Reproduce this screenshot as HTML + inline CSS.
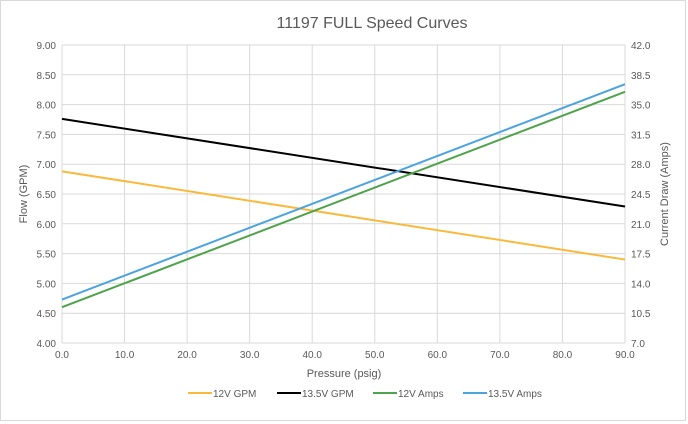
<!DOCTYPE html>
<html><head><style>
body{margin:0;background:#fff;}
svg{display:block;font-family:"Liberation Sans",sans-serif;}
</style></head><body>
<svg id="chart" width="688" height="424" xmlns="http://www.w3.org/2000/svg">
<rect x="0.5" y="0.5" width="685" height="420" fill="#fff" stroke="#d9d9d9"/>
<text x="372" y="28" text-anchor="middle" font-size="16" fill="#595959">11197 FULL Speed Curves</text>
<g id="grid"></g>
<g id="axes"></g>
<g id="series"></g>
<text x="344" y="377" text-anchor="middle" font-size="11" fill="#595959">Pressure (psig)</text>
<text transform="translate(27,194) rotate(-90)" text-anchor="middle" font-size="11" fill="#595959">Flow (GPM)</text>
<text transform="translate(668,194) rotate(-90)" text-anchor="middle" font-size="11" fill="#595959">Current Draw (Amps)</text>
<g id="legend"></g>
</svg>
<script>
const xTicks=[0,10,20,30,40,50,60,70,80,90];
const yTicks=[4,4.5,5,5.5,6,6.5,7,7.5,8,8.5,9];
const y2Ticks=[7,10.5,14,17.5,21,24.5,28,31.5,35,38.5,42];
const pressure=[0,90];
const gpm12=[6.88,5.40];
const gpm135=[7.76,6.29];
const amps12=[11.2,36.5];
const amps135=[12.1,37.4];
const seriesNames=["12V GPM","13.5V GPM","12V Amps","13.5V Amps"];
const colors=["#f9b93b","#000000","#4ea34b","#4ca3e0"];
const L=62,R=625,T=45,B=343;
const sx=v=>L+(v-0)/(90-0)*(R-L);
const sy=v=>B-(v-4)/(9-4)*(B-T);
const sy2=v=>B-(v-7)/(42-7)*(B-T);
const NS="http://www.w3.org/2000/svg";
function mk(tag,attrs,parent){const e=document.createElementNS(NS,tag);for(const k in attrs)e.setAttribute(k,attrs[k]);parent.appendChild(e);return e;}
const grid=document.getElementById('grid'),axes=document.getElementById('axes'),ser=document.getElementById('series'),leg=document.getElementById('legend');
yTicks.forEach((t,i)=>{
 const y=sy(t);
 const g=mk('line',{x1:L,x2:R,y1:y,y2:y,stroke:'#d9d9d9','stroke-width':1},grid);
 
 
 const tx=mk('text',{x:L-6,y:y+4,'text-anchor':'end','font-size':10,fill:'#595959'},axes);
 tx.textContent=t.toFixed(2);
 
 
});
y2Ticks.forEach(t=>{
 const y=sy2(t);
 const tx=mk('text',{x:R+6,y:y+4,'font-size':10,fill:'#595959'},axes);
 tx.textContent=t.toFixed(1);
 
 
});
xTicks.forEach(t=>{
 const x=sx(t);
 const g=mk('line',{x1:x,x2:x,y1:T,y2:B,stroke:'#d9d9d9','stroke-width':1},grid);
 
 
 const tx=mk('text',{x:x,y:B+15,'text-anchor':'middle','font-size':10,fill:'#595959'},axes);
 tx.textContent=t.toFixed(1);
 
 
});
const data=[gpm12,gpm135,amps12,amps135];
data.forEach((d,i)=>{
 const f=i<2?sy:sy2;
 const pts=pressure.map((p,j)=>sx(p)+','+f(d[j])).join(' ');
 const pl=mk('polyline',{points:pts,fill:'none',stroke:colors[i],'stroke-width':2},ser);
 
 
});
const lx=[188,277,373,463];
seriesNames.forEach((n,i)=>{
 const g=mk('g',{},leg);
 
 
 mk('line',{x1:lx[i],x2:lx[i]+24,y1:393,y2:393,stroke:colors[i],'stroke-width':2},g);
 const tx=mk('text',{x:lx[i]+25,y:397,'font-size':10,fill:'#595959'},g);
 tx.textContent=n;
});
</script>
</body></html>
